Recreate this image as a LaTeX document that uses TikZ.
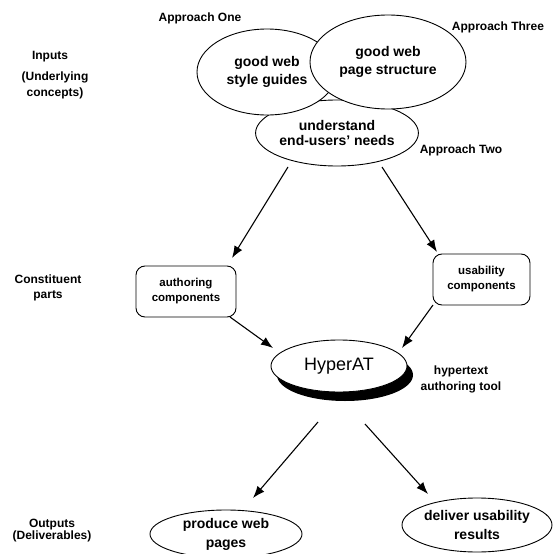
\documentclass[tikz,border=0pt]{standalone}
\usepackage{fontspec}
\setmainfont{Liberation Sans}
\usetikzlibrary{shapes.geometric,calc,arrows.meta}
\begin{document}
\begin{tikzpicture}[x=1pt,y=-1pt,
  lab/.style={font=\fontsize{12}{13}\selectfont\bfseries, align=center, inner sep=0pt},
  bubble/.style={ellipse, draw, line width=0.9pt, fill=white, inner sep=0pt, align=center,
     font=\fontsize{14}{18}\selectfont\bfseries},
  compbox/.style={draw, rounded corners=9pt, line width=0.9pt, inner sep=0pt, align=center,
     minimum width=100pt, minimum height=51pt, font=\fontsize{11.5}{15}\selectfont\bfseries},
  arr/.style={line width=1.1pt, -{Latex[length=12pt,width=9pt]}}]
\useasboundingbox (0,0) rectangle (555,554);
% inputs
\node[bubble, minimum width=156pt, minimum height=66pt, font=\fontsize{14}{15}\selectfont\bfseries] (under) at (337,133) {understand\\end-users' needs};
\node[bubble, minimum width=140pt, minimum height=86pt] (style) at (267,72) {good web\\style guides};
\node[bubble, minimum width=156pt, minimum height=94pt] (page) at (388,62) {good web\\page structure};
\node[lab] (ap1) at (200,18) {Approach One};
\node[lab] (ap3) at (498,27) {Approach Three};
\node[lab] (ap2) at (461,150) {Approach Two};
% left labels
\node[lab] (inputs) at (50,57) {Inputs};
\node[lab, font=\fontsize{12}{16}\selectfont\bfseries] (under2) at (55,85) {(Underlying\\concepts)};
\node[lab, font=\fontsize{12}{15}\selectfont\bfseries] (const) at (48,288) {Constituent\\parts};
\node[lab, font=\fontsize{12}{12}\selectfont\bfseries] (outs) at (52,531) {Outputs\\(Deliverables)};
% components
\node[compbox] (auth) at (186,291.5) {authoring\\components};
\node[compbox, minimum width=97pt] (usab) at (481.5,279.5) {usability\\components};
% HyperAT
\fill[black] (345,375) ellipse [x radius=68pt, y radius=26pt];
\node[ellipse, draw, line width=0.9pt, fill=white, minimum width=136pt, minimum height=52pt, inner sep=0pt,
  font=\fontsize{18}{20}\selectfont] (hyper) at (339,366) {HyperAT};
\node[lab, font=\fontsize{12}{16}\selectfont\bfseries] (hlab) at (461,379) {hypertext\\authoring tool};
% outputs
\node[bubble, minimum width=152pt, minimum height=48pt, font=\fontsize{14}{19}\selectfont\bfseries] (prod) at (226,534) {produce web\\pages};
\node[bubble, minimum width=150pt, minimum height=54pt, font=\fontsize{14}{19}\selectfont\bfseries] (deliv) at (477,525) {deliver usability\\results};
% arrows
\draw[arr] ($(under.center)+(-49,34)$) -- ($(auth.center)+(46,-33.5)$);
\draw[arr] ($(under.center)+(45,34)$) -- ($(usab.center)+(-44.5,-27.5)$);
\draw[arr] ($(auth.center)+(44,25.5)$) -- ($(hyper.center)+(-66,-18)$);
\draw[arr] ($(usab.center)+(-48.5,25.5)$) -- ($(hyper.center)+(63,-18)$);
\draw[arr] ($(hyper.center)+(-21,56)$) -- ($(prod.center)+(27,-36)$);
\draw[arr] ($(hyper.center)+(26,58)$) -- ($(deliv.center)+(-49,-31)$);
\end{tikzpicture}
\end{document}
